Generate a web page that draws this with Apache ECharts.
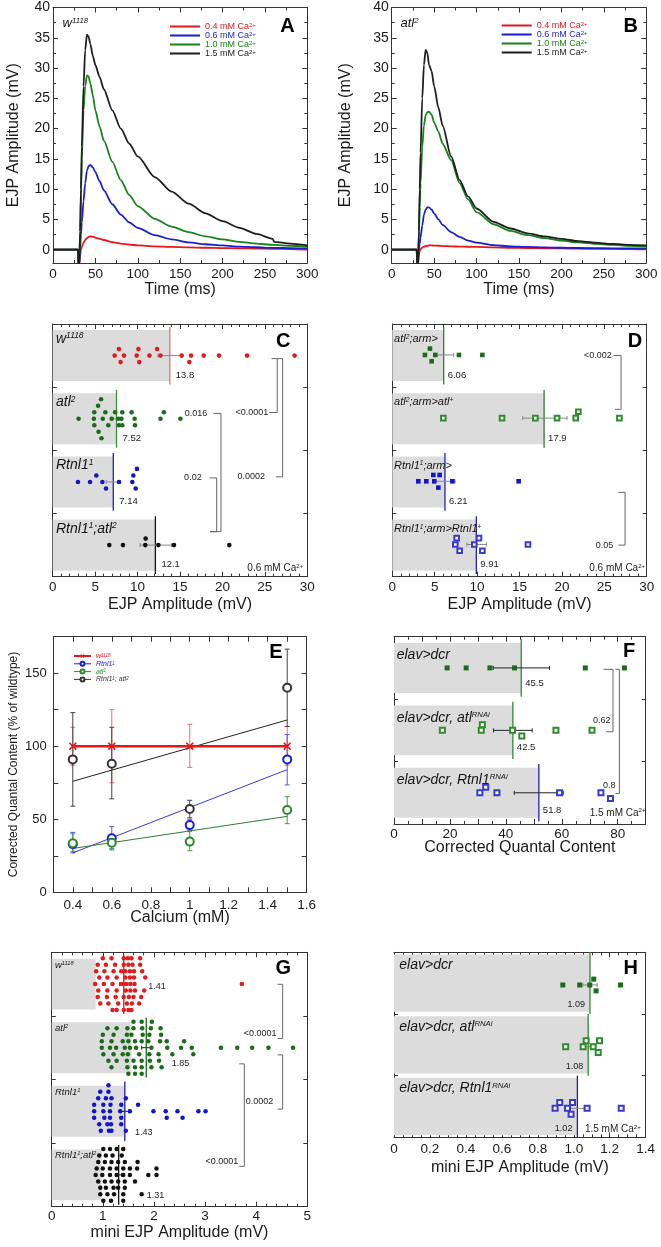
<!DOCTYPE html>
<html>
<head>
<meta charset="utf-8">
<script src="https://cdn.jsdelivr.net/npm/echarts@6.0.0/dist/echarts.min.js"></script>
<style>
html,body{margin:0;padding:0;background:#fff;}
#chart{width:661px;height:1247px;}
</style>
</head>
<body>
<div id="chart"></div>
<script>
/* ================= DATA ================= */
// Panels A, B : averaged EJP traces (time ms -> mV)
const traceTime = [0,29.5,30,31,32,33,34,36,38,40,42,44,47,50,55,60,70,80,90,100,120,140,160,180,200,220,240,259,261,280,300];
const A_ca04 = [0,0,-2.5,-2.5,-1,0,0.5,1.1,1.6,1.9,2.1,2.2,2.15,2.0,1.8,1.6,1.25,1.0,0.85,0.7,0.55,0.45,0.38,0.32,0.27,0.22,0.18,0.15,0.15,0.1,0.0];
const A_ca06 = [0,0,-2.5,-2.5,0.5,2.5,4.5,8,11,13,13.8,14,13.6,12.8,11.3,9.8,7.5,5.8,4.5,3.6,2.4,1.7,1.2,0.9,0.7,0.5,0.4,0.3,0.3,0.25,0.2];
const A_ca10 = [0,0,-2.5,-2.5,3,9,15,23,27,28.8,28.6,27.5,25.5,23,20.3,18,14.5,11.5,9,7.2,5.1,3.8,2.9,2.2,1.7,1.3,1.0,0.8,0.8,0.65,0.5];
const A_ca15 = [0,0,-2.5,-2.5,3,10,17,27,33,35.5,35.2,34,32,30.5,28.5,26.5,23,20,17.5,15.4,12,9.6,7.6,6,4.7,3.6,2.6,1.8,1.3,1.0,0.7];
const B_ca04 = [0,0,-2.5,-2.5,-1,-0.2,0.1,0.35,0.5,0.6,0.65,0.7,0.7,0.68,0.65,0.6,0.55,0.5,0.48,0.45,0.38,0.32,0.27,0.23,0.2,0.17,0.14,0.12,0.12,0.1,0.05];
const B_ca06 = [0,0,-2.5,-2.5,0,1,2,4,5.8,6.6,7,7,6.6,6,5,4.1,2.9,2.1,1.5,1.15,0.75,0.55,0.45,0.38,0.32,0.28,0.25,0.22,0.22,0.2,0.2];
const B_ca10 = [0,0,-2.5,-2.5,2,7,11,17,20.5,22.2,22.7,22.8,22.3,21,19.5,17.5,14.8,11,8.3,6.2,4.2,3.1,2.4,1.9,1.5,1.2,0.95,0.8,0.8,0.65,0.55];
const B_ca15 = [0,0,-2.5,-2.5,3,10,16,25,30.5,33,32.5,30.5,29.5,27,23.5,20.5,15.4,11.5,8.8,6.8,4.6,3.5,2.7,2.2,1.8,1.4,1.15,0.95,0.95,0.8,0.7];
const traceLegend = ['0.4 mM Ca<2+>','0.6 mM Ca<2+>','1.0 mM Ca<2+>','1.5 mM Ca<2+>'];

// Panel C : EJP amplitude, 0.6 mM Ca2+  (rows: [swarm row, values])
const catC = ['w<1118>','atl<2>','Rtnl1<1>','Rtnl1<1>;atl<2>'];
const meanC = [13.8, 7.52, 7.14, 12.1];
const semC = [[12.4,15.2],[6.95,8.1],[6.3,8.0],[10.3,14.0]];
const ptsC_w1118 = [[-1,[7.8,10.1,12.3]],[0,[7.3,8.4,9.9,11.4,12.7,15.2,16.3,17.8,19.6,22.9,28.5]],[1,[8.0,10.2,16.1]]];
const ptsC_atl2 = [[-3,[5.7]],[-2,[5.35]],[-1,[4.9,6.2,7.35,8.2,9.3,13.1]],[0,[3.05,4.85,5.9,6.95,7.75,8.1,9.65,12.7,15.05]],[1,[4.9,6.55,7.8,8.2,9.7]],[2,[5.4]],[3,[5.75]]];
const ptsC_rtnl = [[-2,[9.93]],[-1,[5.14,9.5]],[0,[2.98,4.4,5.85,7.81,9.38]],[1,[6.28,9.78]]];
const ptsC_dbl = [[-1,[10.95]],[0,[6.67,8.28,10.91,12.45,14.29,20.81]]];
const pC = ['<0.0001','0.0002','0.016','0.02'];

// Panel D : rescue, 0.6 mM Ca2+
const catD = ['atl<2>;arm>','atl<2>;arm>atl<+>','Rtnl1<1>;arm>','Rtnl1<1>;arm>Rtnl1<+>'];
const meanD = [6.06, 17.9, 6.21, 9.91];
const semD = [[5.07,7.24],[15.38,20.6],[4.95,7.4],[8.8,11.1]];
const ptsD_atl = [[-1,[4.44]],[0,[3.85,5.07,7.86,10.62]],[1,[4.64]]];
const ptsD_atlRes = [[-1,[21.94]],[0,[6.02,12.94,16.87,19.43,21.63,26.78]]];
const ptsD_rtnl = [[-1,[4.84,5.58]],[0,[3.07,4.01,4.95,7.08,14.9]],[1,[5.43]]];
const ptsD_rtnlRes = [[-1,[7.59,10.22]],[0,[7.43,9.67,16.0]],[1,[7.94,10.62]]];
const pD = ['<0.002','0.05'];

// Panel E : corrected quantal content (% of wildtype)
const calcium = [0.4, 0.6, 1.0, 1.5];
const E_w1118 = [100,100,100,100], E_w1118_lo = [87,75,85.5,87], E_w1118_hi = [113,125,115,113.5];
const E_rtnl = [33,37,46,91], E_rtnl_lo = [27,29,42.5,73.5], E_rtnl_hi = [41,45,50,108];
const E_atl = [33.6,34,34.7,56.4], E_atl_lo = [28,30,28.5,47], E_atl_hi = [40,38,41.5,65.5];
const E_dbl = [91,88,57,140], E_dbl_lo = [59,64,51,113.5], E_dbl_hi = [123,113,63,166.5];
const E_fitX = [0.4, 1.5];
const E_fit_rtnl = [27, 84], E_fit_atl = [30, 52], E_fit_dbl = [76, 118];
const E_legend = ['w<1118>','Rtnl1<1>','atl<2>','Rtnl1<1>; atl<2>'];

// Panel F : corrected quantal content, RNAi, 1.5 mM Ca2+
const catF = ['elav>dcr','elav>dcr, atl<RNAi>','elav>dcr, Rtnl1<RNAi>'];
const meanF = [45.5, 42.5, 51.8];
const semF = [[35.5,55.6],[35.6,49.4],[43.0,60.5]];
const ptsF_ctrl = [[0,[19.0,25.8,34.3,43.1,68.4,82.4]]];
const ptsF_atl = [[-1,[31.6]],[0,[17.3,31.2,42.4,57.9,70.8]],[1,[45.7]]];
const ptsF_rtnl = [[-1,[32.8]],[0,[30.7,36.8,59.2,74.0]],[1,[77.4]]];
const pF = ['0.62','0.8'];

// Panel G : mini EJP amplitude
const catG = ['w<1118>','atl<2>','Rtnl1<1>','Rtnl1<1>;atl<2>'];
const meanG = [1.41, 1.85, 1.43, 1.31];
const semG = [[1.33,1.49],[1.76,1.94],[1.35,1.51],[1.25,1.37]];
const shadeG = [0.86, 1.56, 1.44, 0.98];
const ptsG_w1118 = [
 [-4,[1.00,1.17,1.41,1.49,1.56,1.73]],
 [-3,[0.90,1.06,1.24,1.41,1.50,1.58,1.73]],
 [-2,[0.87,1.03,1.21,1.36,1.44,1.53,1.61,1.77]],
 [-1,[0.93,1.09,1.27,1.44,1.53,1.61,1.83]],
 [0,[0.85,1.02,1.19,1.37,1.45,1.54,1.62,3.72]],
 [1,[0.91,1.09,1.27,1.45,1.54,1.63,1.81]],
 [2,[0.90,1.08,1.25,1.41,1.51,1.60,1.75]],
 [3,[0.95,1.11,1.30,1.47,1.57,1.71]],
 [4,[1.19,1.27,1.41,1.50,1.56]]];
const ptsG_atl2 = [
 [-4,[1.60,1.76,1.96]],
 [-3,[1.09,1.27,1.48,1.60,1.77,1.94,2.13]],
 [-2,[1.00,1.21,1.47,1.56,1.78,1.91,2.14]],
 [-1,[0.98,1.17,1.39,1.50,1.63,1.76,1.89,2.12,2.25,2.59]],
 [0,[0.98,1.14,1.26,1.43,1.53,1.65,1.95,2.26,2.53,2.74,3.31,3.63,3.92,4.24,4.72]],
 [1,[1.01,1.21,1.39,1.49,1.71,1.91,2.09,2.36,2.77]],
 [2,[1.11,1.27,1.47,1.60,1.76,1.92,2.10]],
 [3,[1.17,1.48,1.63,1.76,1.95,2.15]],
 [4,[1.50,1.63,1.76]]];
const ptsG_rtnl = [
 [-4,[1.11]],
 [-3,[0.95,1.11]],
 [-2,[0.91,1.06,1.17,1.45]],
 [-1,[0.83,1.01,1.15,1.36,1.69]],
 [0,[0.83,1.01,1.14,1.34,1.53,1.99,2.23,2.46,2.87,3.01]],
 [1,[0.83,1.03,1.14,1.36,2.25,2.56]],
 [2,[0.93,1.09,1.16,1.36]],
 [3,[0.96,1.12,1.17,1.45]]];
const ptsG_dbl = [
 [-4,[1.01,1.14,1.27,1.40]],
 [-3,[0.93,1.06,1.19,1.37]],
 [-2,[0.91,1.04,1.17,1.30,1.43,1.68]],
 [-1,[0.88,1.00,1.14,1.27,1.40,1.53,1.67,2.05]],
 [0,[0.86,0.99,1.14,1.27,1.40,1.53,1.89,2.05]],
 [1,[0.91,1.04,1.17,1.30,1.43,1.63]],
 [2,[0.95,1.06,1.21,1.30,1.43]],
 [3,[0.95,1.09,1.22,1.40,1.76]],
 [4,[1.01,1.16,1.40]]];
const pG = ['<0.0001','0.0002','<0.0001'];

// Panel H : mini EJP amplitude, RNAi
const catH = ['elav>dcr','elav>dcr, atl<RNAi>','elav>dcr, Rtnl1<RNAi>'];
const meanH = [1.09, 1.08, 1.02];
const semH = [[1.05,1.13],[1.05,1.11],[0.97,1.06]];
const ptsH_ctrl = [[-1,[1.111]],[0,[0.939,1.033,1.089,1.26]],[1,[1.124]]];
const ptsH_atl = [[-1,[1.069,1.143]],[0,[0.955,1.052,1.108]],[1,[1.136]]];
const ptsH_rtnl = [[-1,[0.922,0.993]],[0,[0.896,0.965,1.074,1.264]],[1,[0.985]]];

/* ================= HELPERS / LAYOUT ================= */
const FF = '"Liberation Sans", Arial, Helvetica, sans-serif';
function rt(s){ return '{n|' + s.replace(/<([^>]*)>/g, '}{s|$1}{n|') + '}'; }
function zRich(fs, italic, color, r){
  const st = italic ? 'italic' : 'normal'; r = r || 0.6;
  return { n:{fontSize:fs, fontStyle:st, fontFamily:FF, fill:color, color:color},
           s:{fontSize:Math.round(fs*r*10)/10, fontStyle:st, fontFamily:FF, fill:color, color:color, verticalAlign:'top'} };
}
const grid = [], xAxis = [], yAxis = [], series = [];
function clean(o){ Object.keys(o).forEach(k => { if (o[k] === undefined) delete o[k]; }); return o; }
function axisDef(gi, o, pos, main){
  return clean({
    type:'value', gridIndex:gi, position:pos,
    min:o.min, max:o.max, interval:o.interval, minInterval:o.minInterval, maxInterval:o.maxInterval, splitNumber:o.splitNumber,
    inverse: !!o.inverse,
    axisLine:{show:true, onZero:false, lineStyle:{color:'#333', width:1}},
    axisTick:{show:true, inside:true, length:o.tickLen || 5, lineStyle:{color:'#333', width:1}},
    minorTick:{show:!!o.minor, splitNumber:o.minor || 5, length:3, lineStyle:{color:'#333', width:1}},
    splitLine:{show:false}, minorSplitLine:{show:false},
    axisLabel: clean({show: !!(main && o.fmt), fontFamily:FF, fontSize:o.fs || 13.5, color:'#1a1a1a',
      margin: o.margin == null ? 4 : o.margin, formatter:o.fmt, hideOverlap:false}),
    name: main ? (o.name || '') : '', nameLocation:'middle', nameGap:o.nameGap || 20, nameMoveOverlap:false,
    nameTextStyle:{fontFamily:FF, fontSize:o.nameFs || 16, color:'#1a1a1a'},
    silent:true
  });
}
function addPanel(g, xo, yo){
  const gi = grid.length;
  grid.push(Object.assign({containLabel:false, outerBoundsMode:'none'}, g));
  xAxis.push(axisDef(gi, xo, 'bottom', true), axisDef(gi, xo, 'top', false));
  yAxis.push(axisDef(gi, yo, 'left', true), axisDef(gi, yo, 'right', false));
  return gi;
}
const dotY = n => ({min:0, max:n, interval:1, inverse:true, tickLen:4});
const fmtA = v => (Math.abs(v % 5) < 1e-9 ? String(Math.round(v)) : '');
const fmtS = v => String(v);
const fmtEx = v => { const t = Math.round(v*10); return t % 2 === 0 ? String(t/10) : ''; };
const fmtEy = v => (v % 50 === 0 ? String(v) : '');
const fmtF = v => (v % 20 === 0 ? String(v) : '');
const fmtH = v => (Math.abs(v) < 1e-9 ? '0' : v.toFixed(1));

const gA = addPanel({left:53, top:7.5, width:254.3, height:255.5},
  {min:0, max:300, interval:50, minor:2, fmt:fmtS, margin:4.5, name:'Time (ms)', nameGap:18.5},
  {min:-2.2, max:40, minInterval:5, maxInterval:5, splitNumber:8, minor:2, fmt:fmtA, fs:14, margin:3, name:'EJP Amplitude (mV)', nameGap:31.5});
const gB = addPanel({left:391.7, top:7.5, width:254.6, height:255.5},
  {min:0, max:300, interval:50, minor:2, fmt:fmtS, margin:4.5, name:'Time (ms)', nameGap:18.5},
  {min:-2.2, max:40, minInterval:5, maxInterval:5, splitNumber:8, minor:2, fmt:fmtA, fs:14, margin:3, name:'EJP Amplitude (mV)', nameGap:38.5});
const gC = addPanel({left:52.7, top:324, width:254.6, height:252.7},
  {min:0, max:30, interval:5, minor:5, fmt:fmtS, margin:4, name:'EJP Amplitude (mV)', nameGap:20}, dotY(4));
const gD = addPanel({left:392.3, top:324, width:254.4, height:252.7},
  {min:0, max:30, interval:5, minor:5, fmt:fmtS, margin:4, name:'EJP Amplitude (mV)', nameGap:20}, dotY(4));
const gE = addPanel({left:53.3, top:636.7, width:253.4, height:255.6},
  {min:0.3, max:1.6, interval:0.1, fmt:fmtEx, margin:5.5, name:'Calcium (mM)', nameGap:17.5},
  {min:0, max:175, interval:25, fmt:fmtEy, fs:13, margin:6.5, name:'Corrected Quantal Content (% of wildtype)', nameFs:12, nameGap:34});
const gF = addPanel({left:394, top:636.7, width:251.7, height:187.3},
  {min:0, max:90, interval:10, minor:2, fmt:fmtF, margin:3, name:'Corrected Quantal Content', nameGap:16}, dotY(3));
const gG = addPanel({left:51.7, top:952.3, width:255.6, height:254.4},
  {min:0, max:5, interval:1, minor:5, fmt:fmtS, margin:3, name:'mini EJP Amplitude (mV)', nameGap:18}, dotY(4));
const gH = addPanel({left:394, top:952.3, width:251.7, height:185},
  {min:0, max:1.4, interval:0.2, minor:4, fmt:fmtH, margin:5, name:'mini EJP Amplitude (mV)', nameGap:22.5}, dotY(3));

/* ---- A, B traces ---- */
const TC = ['#e3191c', '#1c1cd0', '#18821b', '#1e1e1e'];
function trace(gi, name, vals, color){
  series.push({type:'line', name, xAxisIndex:2*gi, yAxisIndex:2*gi, silent:true,
    data: traceTime.map((t,i) => [t, vals[i]]), symbol:'none', showSymbol:false,
    smooth:0.25, smoothMonotone:'x', clip:true, z:3,
    lineStyle:{color, width:1.8}, itemStyle:{color}});
}
[[A_ca04,A_ca06,A_ca10,A_ca15],[B_ca04,B_ca06,B_ca10,B_ca15]].forEach((set, k) => {
  set.forEach((v, j) => trace(k === 0 ? gA : gB, (k === 0 ? 'A' : 'B') + j, v, TC[j]));
});
const legendMap = {};
['A','B'].forEach(p => traceLegend.forEach((t, j) => { legendMap[p + j] = rt(t); }));
['w','r','g','k'].forEach((p, j) => { legendMap['E' + p] = rt(E_legend[j]); });

/* ---- E ---- */
const ER = '#e8161b', EB = '#1d1dd6', EG = '#2a8a2a', EK = '#333333';
const XPATH = 'path://M0,1.4L1.4,0L5,3.6L8.6,0L10,1.4L6.4,5L10,8.6L8.6,10L5,6.4L1.4,10L0,8.6L3.6,5Z';
function errE(xs, lo, hi, color){
  series.push({type:'custom', xAxisIndex:2*gE, yAxisIndex:2*gE, silent:true, z:2,
    data: xs.map((x,i) => [x, lo[i], hi[i]]),
    renderItem:(p, api) => {
      const a = api.coord([api.value(0), api.value(1)]), b = api.coord([api.value(0), api.value(2)]);
      const w = 2.5, st = {stroke:color, lineWidth:1};
      return {type:'group', children:[
        {type:'line', shape:{x1:a[0], y1:a[1], x2:b[0], y2:b[1]}, style:st},
        {type:'line', shape:{x1:a[0]-w, y1:a[1], x2:a[0]+w, y2:a[1]}, style:st},
        {type:'line', shape:{x1:b[0]-w, y1:b[1], x2:b[0]+w, y2:b[1]}, style:st}]};
    }});
}
errE(calcium, E_w1118_lo, E_w1118_hi, '#ec6f6f');
errE(calcium, E_rtnl_lo, E_rtnl_hi, '#5656e0');
errE(calcium, E_atl_lo, E_atl_hi, '#4c9c4c');
errE(calcium, E_dbl_lo, E_dbl_hi, '#444444');
function fitE(vals, color){
  series.push({type:'line', xAxisIndex:2*gE, yAxisIndex:2*gE, silent:true, z:3,
    data: E_fitX.map((x,i) => [x, vals[i]]), symbol:'none', lineStyle:{color, width:1}});
}
fitE(E_fit_rtnl, '#3a3ad8'); fitE(E_fit_atl, '#2e7d32'); fitE(E_fit_dbl, '#222');
function ptsE(name, vals, color, sym, size, lineW){
  series.push({type:'line', name, xAxisIndex:2*gE, yAxisIndex:2*gE, silent:true, z: lineW ? 5 : 4,
    data: calcium.map((x,i) => [x, vals[i]]), symbol:sym, symbolSize:size, showAllSymbol:true,
    lineStyle: lineW ? {color, width:lineW} : {color, width:1, opacity:0},
    itemStyle:{color, borderColor:color, borderWidth: lineW ? 0 : 1.5}});
}
ptsE('Ew', E_w1118, ER, XPATH, 8, 2.5);
ptsE('Er', E_rtnl, EB, 'emptyCircle', 8, 0);
ptsE('Eg', E_atl, EG, 'emptyCircle', 8, 0);
ptsE('Ek', E_dbl, EK, 'emptyCircle', 8, 0);

/* ---- dot panels ---- */
function dotPanel(c){
  const X = 2*c.gi;
  const base = {xAxisIndex:X, yAxisIndex:X, silent:true};
  const cy = i => i + 0.5;
  series.push(Object.assign({type:'custom', z:1, data:c.bars.map((m,i) => [m,i]),
    renderItem:(p, api) => { const m = api.value(0), i = api.value(1);
      const a = api.coord([0, cy(i) - c.barH]), b = api.coord([m, cy(i) + c.barH]);
      return {type:'rect', shape:{x:a[0], y:a[1], width:b[0]-a[0], height:b[1]-a[1]}, style:{fill:'#dcdcdc'}}; }}, base));
  series.push(Object.assign({type:'custom', z:2, data:c.means.map((m,i) => [m,i]),
    renderItem:(p, api) => { const m = api.value(0), i = api.value(1);
      const a = api.coord([m, cy(i) - c.lineH]), b = api.coord([m, cy(i) + c.lineH]);
      return {type:'line', shape:{x1:a[0], y1:a[1], x2:b[0], y2:b[1]}, style:{stroke:c.lineColors[i], lineWidth:1.3}}; }}, base));
  series.push(Object.assign({type:'custom', z:3, data:c.sems.map((s,i) => [s[0], i, s[1]]),
    renderItem:(p, api) => { const i = api.value(1), y = cy(i) + c.base;
      const a = api.coord([api.value(0), y]), b = api.coord([api.value(2), y]), h = 2;
      const st = {stroke:c.errColor, lineWidth:1};
      return {type:'group', children:[
        {type:'line', shape:{x1:a[0], y1:a[1], x2:b[0], y2:b[1]}, style:st},
        {type:'line', shape:{x1:a[0], y1:a[1]-h, x2:a[0], y2:a[1]+h}, style:st},
        {type:'line', shape:{x1:b[0], y1:b[1]-h, x2:b[0], y2:b[1]+h}, style:st}]}; }}, base));
  c.pts.forEach((rows, i) => {
    const data = [];
    rows.forEach(([r, vals]) => vals.forEach(v => data.push([v, cy(i) + c.base + r*c.step])));
    const sym = c.symbols[i], col = c.colors[i], empty = sym.indexOf('empty') === 0;
    series.push(Object.assign({type:'scatter', z:4, data, symbol:sym, symbolSize:c.symSize,
      itemStyle:{color:col, borderColor:col, borderWidth: empty ? 1 : 0, opacity:1}}, base));
  });
  // category labels
  series.push(Object.assign({type:'custom', z:5, data:c.cats.map((t,i) => [0,i]),
    renderItem:(p, api) => { const i = api.value(1); const a = api.coord([0, cy(i) + c.labDy]);
      return {type:'text', x:a[0] + c.labDx, y:a[1], style:{text:rt(c.cats[i]), rich:zRich(c.labFs, true, '#151515', c.labSup),
        fontSize:c.labFs, fontFamily:FF, fontStyle:'italic', fill:'#151515', align:'left', verticalAlign:'middle'}}; }}, base));
  // mean labels
  series.push(Object.assign({type:'custom', z:5, data:c.means.map((m,i) => [c.mlX ? c.mlX[i] : m, i]),
    renderItem:(p, api) => { const i = api.value(1); const a = api.coord([api.value(0), cy(i) + c.mlDy[i]]);
      return {type:'text', x:a[0] + c.mlDx, y:a[1], style:{text:String(c.means[i]), fontSize:c.mlFs, fontFamily:FF,
        fill:'#222', align:c.mlAlign, verticalAlign:'middle'}}; }}, base));
  // brackets
  if (c.brackets) {
    series.push(Object.assign({type:'custom', z:5, data:c.brackets,
      renderItem:(p, api) => {
        const x = api.value(0), y1 = api.value(1), y2 = api.value(2), s1 = api.value(3), s2 = api.value(4), lx = api.value(5), ly = api.value(6);
        const pts = [api.coord([x - s1, y1]), api.coord([x, y1]), api.coord([x, y2]), api.coord([x - s2, y2])];
        const pl = api.coord([lx, ly]);
        return {type:'group', children:[
          {type:'polyline', shape:{points:pts}, style:{stroke:'#666', lineWidth:1, fill:null}},
          {type:'text', x:pl[0], y:pl[1], style:{text:c.pLabels[p.dataIndex], fontSize:9, fontFamily:FF, fill:'#222', align:'right', verticalAlign:'middle'}}]};
      }}, base));
  }
  // condition text
  if (c.cond) {
    series.push(Object.assign({type:'custom', z:5, data:[c.cond.pos],
      renderItem:(p, api) => { const a = api.coord([api.value(0), api.value(1)]);
        return {type:'text', x:a[0], y:a[1], style:{text:rt(c.cond.text), rich:zRich(10, false, '#222', 0.6),
          fontSize:10, fontFamily:FF, fill:'#222', align:'right', verticalAlign:'middle'}}; }}, base));
  }
}

dotPanel({gi:gC, cats:catC, means:meanC, sems:semC, bars:meanC,
  pts:[ptsC_w1118, ptsC_atl2, ptsC_rtnl, ptsC_dbl], step:0.103, base:0, barH:0.404, lineH:0.457,
  symbols:['circle','circle','circle','circle'], symSize:4.6, colors:['#e41a1c','#1b6b1b','#1414c8','#111'],
  lineColors:['#e27474','#3d8f3d','#2020c0','#111'], errColor:'#888',
  labFs:14, labDx:3.3, labDy:-0.26, labSup:0.6,
  mlDx:6, mlDy:[0.31,0.31,0.31,0.31], mlAlign:'left', mlFs:9.5,
  brackets:[[26.46,0.548,1.40,0.67,0.94,25.40,1.40],[27.09,0.548,2.42,0.63,0.79,25.01,2.42],
            [19.83,1.415,3.287,0.9,1.3,18.22,1.415],[19.32,2.436,3.287,0.86,0.79,17.55,2.436]],
  pLabels:pC, cond:{text:'0.6 mM Ca<2+>', pos:[29.5,3.86]}});

dotPanel({gi:gD, cats:catD, means:meanD, sems:semD, bars:meanD,
  pts:[ptsD_atl, ptsD_atlRes, ptsD_rtnl, ptsD_rtnlRes], step:0.1, base:-0.01, barH:0.404, lineH:0.457,
  symbols:['rect','emptyRect','rect','emptyRect'], symSize:4.6, colors:['#1a6b1a','#2e8b2e','#1414c8','#3a3ad0'],
  lineColors:['#2e7d32','#2e7d32','#2020c0','#2020c0'], errColor:'#888',
  labFs:11, labDx:1.8, labDy:-0.26, labSup:0.6,
  mlDx:4, mlDy:[0.31,0.31,0.31,0.31], mlAlign:'left', mlFs:9.5,
  brackets:[[26.98,0.5,1.351,0.9,0.71,25.87,0.5],[27.45,2.665,3.5,0.79,0.79,26.07,3.5]],
  pLabels:pD, cond:{text:'0.6 mM Ca<2+>', pos:[29.8,3.86]}});

dotPanel({gi:gF, cats:catF, means:meanF, sems:semF, bars:meanF,
  pts:[ptsF_ctrl, ptsF_atl, ptsF_rtnl], step:0.09, base:0, barH:0.40, lineH:0.46,
  symbols:['rect','emptyRect','emptyRect'], symSize:5, colors:['#1a6b1a','#2e8b2e','#3a3ad0'],
  lineColors:['#2e8b2e','#2e8b2e','#2020c0'], errColor:'#222',
  labFs:14, labDx:2.7, labDy:-0.2, labSup:0.55,
  mlDx:4, mlDy:[0.25,0.27,0.28], mlAlign:'left', mlFs:9.5,
  brackets:[[78.3,0.523,1.522,3.34,2.39,77.4,1.335],[80.6,0.523,2.51,1.43,1.43,79.2,2.39]],
  pLabels:pF, cond:{text:'1.5 mM Ca<2+>', pos:[89.9,2.82]}});

dotPanel({gi:gG, cats:catG, means:meanG, sems:semG, bars:shadeG,
  pts:[ptsG_w1118, ptsG_atl2, ptsG_rtnl, ptsG_dbl], step:0.102, base:0, barH:0.40, lineH:0.47,
  symbols:['circle','circle','circle','circle'], symSize:4.5, colors:['#e41a1c','#1a6b1a','#1515c8','#111'],
  lineColors:['#8a3a3a','#1a6b1a','#2020c0','#111'], errColor:'#222',
  labFs:9.5, labDx:3.3, labDy:-0.3, labSup:0.6,
  mlX:[1.89,2.35,1.63,1.86], mlDx:0, mlDy:[0.04,0.25,0.33,0.32], mlAlign:'left', mlFs:9,
  brackets:[[4.518,0.503,1.356,0.098,0.098,4.40,1.27],[4.518,1.613,2.466,0.098,0.098,4.335,2.345],
            [3.768,1.754,3.366,0.098,0.098,3.65,3.288]],
  pLabels:pG});

dotPanel({gi:gH, cats:catH, means:meanH, sems:semH, bars:meanH,
  pts:[ptsH_ctrl, ptsH_atl, ptsH_rtnl], step:0.095, base:0.03, barH:0.465, lineH:0.5,
  symbols:['rect','emptyRect','emptyRect'], symSize:5, colors:['#1a6b1a','#2e8b2e','#3a3ad0'],
  lineColors:['#2e8b2e','#2e8b2e','#2020c0'], errColor:'#888',
  labFs:14, labDx:5.3, labDy:-0.29, labSup:0.55,
  mlDx:-5, mlDy:[0.35,0.35,0.35], mlAlign:'right', mlFs:9,
  cond:{text:'1.5 mM Ca<2+>', pos:[1.372,2.87]}});

/* ---- legends ---- */
// plain line icon (tiny corner specks fix the icon box to 30x8, bar 2px thick in the middle)
const LINE_ICON = 'path://M0,0L0.01,0L0,0.01Z M0,3L30,3L30,5L0,5Z M30,8L29.99,8L30,7.99Z';
const legRichAB = {n:{fontSize:9, fontFamily:FF, lineHeight:8}, s:{fontSize:6, fontFamily:FF, lineHeight:5, verticalAlign:'top'}};
const legRichE = {n:{fontSize:7, fontFamily:FF, fontStyle:'italic', lineHeight:6}, s:{fontSize:4.5, fontFamily:FF, fontStyle:'italic', lineHeight:4, verticalAlign:'top'}};
const legends = [
  {left:170, top:22, prefix:'A'}, {left:501.7, top:21, prefix:'B'}
].map(L => ({
  orient:'vertical', left:L.left, top:L.top, itemWidth:30, itemHeight:8, itemGap:0, itemTextGap:2,
  selectedMode:false, padding:0, icon:LINE_ICON,
  data:[0,1,2,3].map(j => ({name:L.prefix + j, icon:LINE_ICON, itemStyle:{color:TC[j]}, textStyle:{color:TC[j]}})),
  formatter: n => legendMap[n],
  textStyle:{fontFamily:FF, fontSize:9, lineHeight:8, rich:legRichAB}
}));
legends.push({
  orient:'vertical', left:73, top:652.5, itemWidth:17, itemHeight:5, itemGap:0.8, itemTextGap:3,
  selectedMode:false, padding:0,
  data:[{name:'Ew', textStyle:{color:ER}},
        {name:'Er', textStyle:{color:EB}, lineStyle:{opacity:1, width:1}},
        {name:'Eg', textStyle:{color:EG}, lineStyle:{opacity:1, width:1}},
        {name:'Ek', textStyle:{color:EK}, lineStyle:{opacity:1, width:1}}],
  formatter: n => legendMap[n],
  textStyle:{fontFamily:FF, fontSize:7, fontStyle:'italic', lineHeight:6, rich:legRichE}
});

/* ---- panel letters & genotype labels ---- */
const letters = [['A',287.5,26.7],['B',630.8,26.3],['C',283.3,341.7],['D',635,341.7],
                 ['E',276,652],['F',629,651.7],['G',283.3,968.3],['H',630.8,968.3]];
const graphic = letters.map(([t,x,y]) => ({type:'text', x, y, silent:true,
  style:{text:t, font:'bold 20px ' + FF, fill:'#000', align:'center', verticalAlign:'middle'}}));
graphic.push({type:'text', x:62.5, y:23, silent:true, style:{text:rt('w<1118>'), rich:zRich(13,true,'#111'), fontSize:13, fontFamily:FF, fill:'#111', align:'left', verticalAlign:'middle'}});
graphic.push({type:'text', x:400.5, y:23, silent:true, style:{text:rt('atl<2>'), rich:zRich(13,true,'#111'), fontSize:13, fontFamily:FF, fill:'#111', align:'left', verticalAlign:'middle'}});

const chart = echarts.init(document.getElementById('chart'), null, {renderer:'canvas', width:661, height:1247});
chart.setOption({
  backgroundColor:'#ffffff', animation:false, tooltip:{show:false},
  grid, xAxis, yAxis, series, legend:legends, graphic
});
</script>
</body>
</html>
